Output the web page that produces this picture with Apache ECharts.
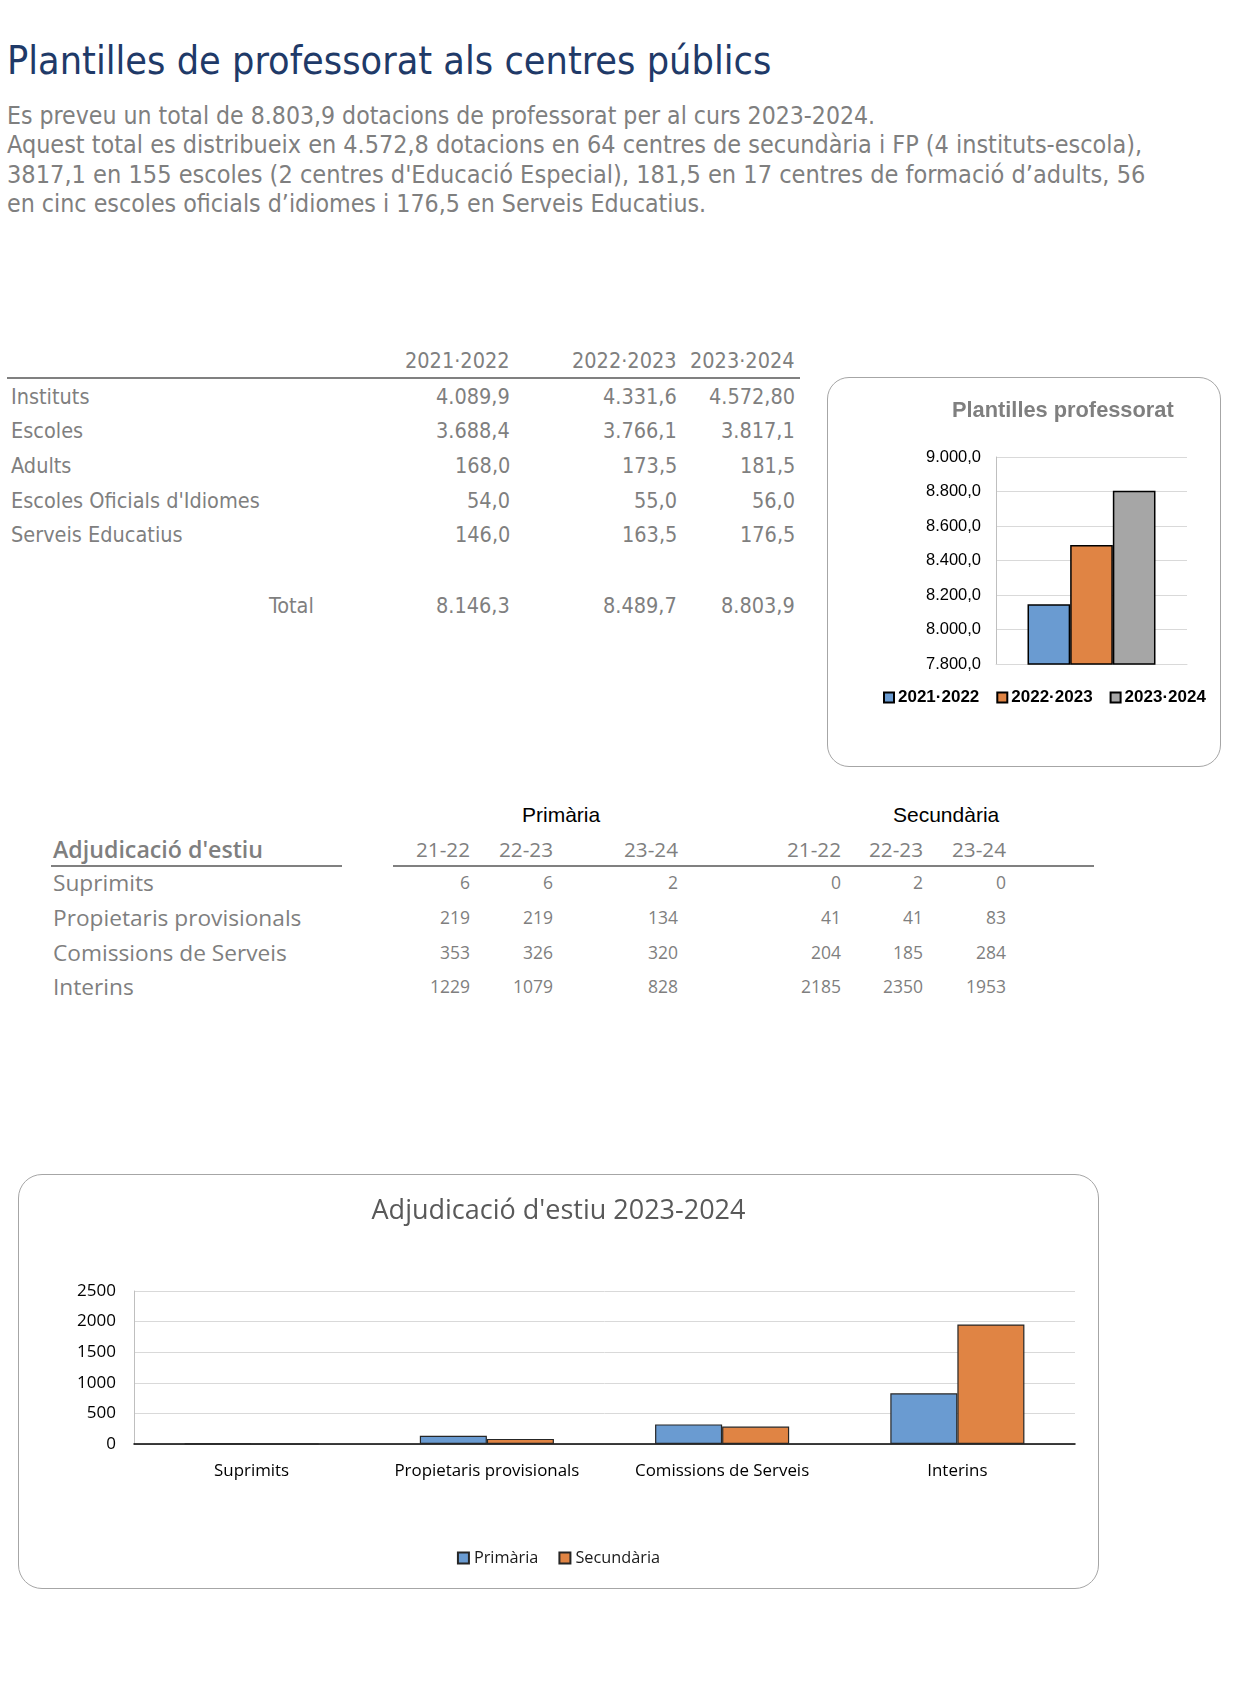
<!DOCTYPE html>
<html>
<head>
<meta charset="utf-8">
<script src="https://cdn.jsdelivr.net/npm/echarts@6/dist/echarts.min.js"></script>
<style>
  body { margin: 0; background: #fff; }
  #page { position: relative; width: 1241px; height: 1699px; overflow: hidden; }
  .t { position: absolute; white-space: nowrap; line-height: 1; }
  .frame { position: absolute; box-sizing: border-box; border: 1.5px solid #a6a6a6; pointer-events: none; }
  .rule { position: absolute; height: 0; border-top: 2px solid #808080; }
  #chart1 { position: absolute; left: 827px; top: 377px; width: 394px; height: 390px; }
  #chart2 { position: absolute; left: 18px; top: 1174px; width: 1081px; height: 415px; }
</style>
</head>
<body>
<div id="page">
  <div class="frame" style="left:827px;top:377px;width:394px;height:390px;border-radius:22px"></div>
  <div class="frame" style="left:18px;top:1174px;width:1081px;height:415px;border-radius:24px"></div>
  <div class="rule" style="left:7px;top:377px;width:793px"></div>
  <div class="rule" style="left:51px;top:865px;width:291px"></div>
  <div class="rule" style="left:393px;top:865px;width:701px"></div>
  <div id="chart1"></div>
  <div id="chart2"></div>
</div>
<script>
// dades
const years = ['2021·2022', '2022·2023', '2023·2024'];
const centres = ['Instituts', 'Escoles', 'Adults', "Escoles Oficials d'Idiomes", 'Serveis Educatius'];
const instituts = [4089.9, 4331.6, 4572.8];
const escoles = [3688.4, 3766.1, 3817.1];
const adults = [168.0, 173.5, 181.5];
const eoi = [54.0, 55.0, 56.0];
const serveis = [146.0, 163.5, 176.5];
const totals = [8146.3, 8489.7, 8803.9];

const adjRows = ['Suprimits', 'Propietaris provisionals', 'Comissions de Serveis', 'Interins'];
const adjCols = ['21-22', '22-23', '23-24'];
const primaria = [[6, 6, 2], [219, 219, 134], [353, 326, 320], [1229, 1079, 828]];
const secundaria = [[0, 2, 0], [41, 41, 83], [204, 185, 284], [2185, 2350, 1953]];

const yTicks1 = { min: 7800, max: 9000, step: 200 };
const yTicks2 = { min: 0, max: 2500, step: 500 };

const colors = ['#6a9bd1', '#e08444', '#a6a6a6'];

function fmt(v, d) {
    var s = v.toFixed(d === undefined ? 1 : d).split('.');
    s[0] = s[0].replace(/\B(?=(\d{3})+(?!\d))/g, '.');
    return s.length > 1 ? s[0] + ',' + s[1] : s[0];
}

var page = document.getElementById('page');
// text helper: x anchor, y centre
function put(text, x, y, o) {
    var el = document.createElement('span');
    el.className = 't';
    el.textContent = text;
    el.style.fontFamily = o.family;
    el.style.fontSize = o.size + 'px';
    el.style.color = o.color || '#7f7f7f';
    if (o.weight) el.style.fontWeight = o.weight;
    page.appendChild(el);
    if (o.w) {
        el.style.fontSize = (o.size * o.w / el.offsetWidth) + 'px';
    }
    var wdt = el.offsetWidth, h = el.offsetHeight;
    var left = x;
    if (o.align === 'right') left = x - wdt;
    if (o.align === 'center') left = x - wdt / 2;
    el.style.left = left + 'px';
    el.style.top = (y - h / 2) + 'px';
    return el;
}

var tah = '"DejaVu Sans Condensed", "DejaVu Sans", sans-serif';
var cal = '"Open Sans", sans-serif';
var ari = '"Liberation Sans", Arial, sans-serif';

put('Plantilles de professorat als centres públics', 7, 60, { family: tah, size: 32, color: '#1f3a68', w: 764 });
var para = [
    'Es preveu un total de 8.803,9 dotacions de professorat per al curs 2023-2024.',
    'Aquest total es distribueix en 4.572,8 dotacions en 64 centres de secundària i FP (4 instituts-escola),',
    "3817,1 en 155 escoles (2 centres d'Educació Especial), 181,5 en 17 centres de formació d’adults, 56",
    'en cinc escoles oficials d’idiomes i 176,5 en Serveis Educatius.'
];
var paraW = [869, 1136, 1139, 700];
var paraY = [116, 145, 174, 204];
para.forEach(function (l, i) {
    put(l, 7, paraY[i], { family: tah, size: 19.5, color: '#7f7f7f', w: paraW[i] });
});

// taula 1
var colX1 = [510, 677, 795];
var rowY1 = [397, 431, 466, 501, 535];
var fs1 = 21.5;
years.forEach(function (y, j) {
    put(y, colX1[j], 361, { family: tah, size: fs1, align: 'right' });
});
var table1 = [instituts, escoles, adults, eoi, serveis];
centres.forEach(function (c, i) {
    put(c, 11, rowY1[i], { family: tah, size: fs1 });
    table1[i].forEach(function (v, j) {
        var d = (i === 0 && j === 2) ? 2 : 1;   // a l'original surt 4.572,80
        put(fmt(v, d), colX1[j], rowY1[i], { family: tah, size: fs1, align: 'right' });
    });
});
put('Total', 314, 606, { family: tah, size: fs1, align: 'right' });
totals.forEach(function (v, j) {
    put(fmt(v, 1), colX1[j], 606, { family: tah, size: fs1, align: 'right' });
});

// taula 2
var colX2 = [470, 553, 678, 841, 923, 1006];
var rowY2 = [883, 918, 953, 987];
put('Primària', 561, 814, { family: ari, size: 21, color: '#000', align: 'center' });
put('Secundària', 946, 814, { family: ari, size: 21, color: '#000', align: 'center' });
put("Adjudicació d'estiu", 53, 849, { family: cal, size: 23.2, weight: 600 });
adjCols.concat(adjCols).forEach(function (c, j) {
    put(c, colX2[j], 849, { family: cal, size: 20.7, align: 'right' });
});
adjRows.forEach(function (r, i) {
    put(r, 53, rowY2[i], { family: cal, size: 22.7 });
    primaria[i].concat(secundaria[i]).forEach(function (v, j) {
        put(String(v), colX2[j], rowY2[i], { family: cal, size: 17.5, align: 'right' });
    });
});

// gràfic 1
var chart1 = echarts.init(document.getElementById('chart1'));
chart1.setOption({
    animation: false,
    title: {
        text: 'Plantilles professorat',
        left: 125,
        top: 23,
        padding: 0,
        textStyle: { fontFamily: ari, fontSize: 21.8, fontWeight: 'bold', color: '#7f7f7f' }
    },
    legend: {
        left: 51,
        top: 307,
        itemWidth: 10,
        itemHeight: 10,
        itemGap: 17,
        icon: 'rect',
        textStyle: { fontFamily: ari, fontSize: 17, fontWeight: 'bold', color: '#000', padding: [0, 0, 0, -1] }
    },
    grid: { left: 169, right: 34, top: 80, bottom: 103 },
    xAxis: {
        type: 'category',
        data: ['Total'],
        axisLabel: { show: false },
        axisTick: { show: false },
        axisLine: { lineStyle: { color: '#d9d9d9' } }
    },
    yAxis: {
        type: 'value',
        min: yTicks1.min,
        max: yTicks1.max,
        interval: yTicks1.step,
        axisLine: { show: true, lineStyle: { color: '#bfbfbf' } },
        axisLabel: { formatter: function (v) { return fmt(v, 1); }, color: '#000', fontSize: 16.5, fontFamily: ari, margin: 15 },
        splitLine: { lineStyle: { color: '#d9d9d9' } }
    },
    series: years.map(function (y, i) {
        return {
            name: y,
            type: 'bar',
            data: [totals[i]],
            startValue: yTicks1.min,
            barGap: '0%',
            barCategoryGap: '33%',
            itemStyle: { color: colors[i], borderColor: '#000', borderWidth: 1.5 }
        };
    })
});

// gràfic 2
var chart2 = echarts.init(document.getElementById('chart2'));
chart2.setOption({
    animation: false,
    title: {
        text: "Adjudicació d'estiu 2023-2024",
        left: 'center',
        top: 24,
        padding: 0,
        textStyle: { fontFamily: cal, fontSize: 27, fontWeight: 'normal', color: '#595959' }
    },
    legend: {
        left: 'center',
        top: 371,
        itemWidth: 11,
        itemHeight: 11,
        itemGap: 20,
        icon: 'rect',
        textStyle: { fontFamily: cal, fontSize: 16.3, color: '#1a1a1a' }
    },
    grid: { left: 116, right: 24, top: 117, bottom: 145 },
    xAxis: {
        type: 'category',
        data: adjRows,
        axisTick: { show: false },
        axisLine: { lineStyle: { color: '#000', width: 1.5 } },
        axisLabel: { interval: 0, color: '#000', fontSize: 16.9, fontFamily: cal, margin: 18.5 }
    },
    yAxis: {
        type: 'value',
        min: yTicks2.min,
        max: yTicks2.max,
        interval: yTicks2.step,
        axisLine: { show: true, lineStyle: { color: '#bfbfbf' } },
        axisLabel: { formatter: function (v) { return String(v); }, color: '#000', fontSize: 17, fontFamily: cal, margin: 18 },
        splitLine: { lineStyle: { color: '#d9d9d9' } }
    },
    series: [
        { name: 'Primària', type: 'bar', data: primaria.map(function (r) { return r[2]; }),
          barGap: '0%', barCategoryGap: '43%',
          itemStyle: { color: colors[0], borderColor: '#262626', borderWidth: 1.2 } },
        { name: 'Secundària', type: 'bar', data: secundaria.map(function (r) { return r[2]; }),
          barGap: '0%', barCategoryGap: '43%',
          itemStyle: { color: colors[1], borderColor: '#262626', borderWidth: 1.2 } }
    ]
});
</script>
</body>
</html>
